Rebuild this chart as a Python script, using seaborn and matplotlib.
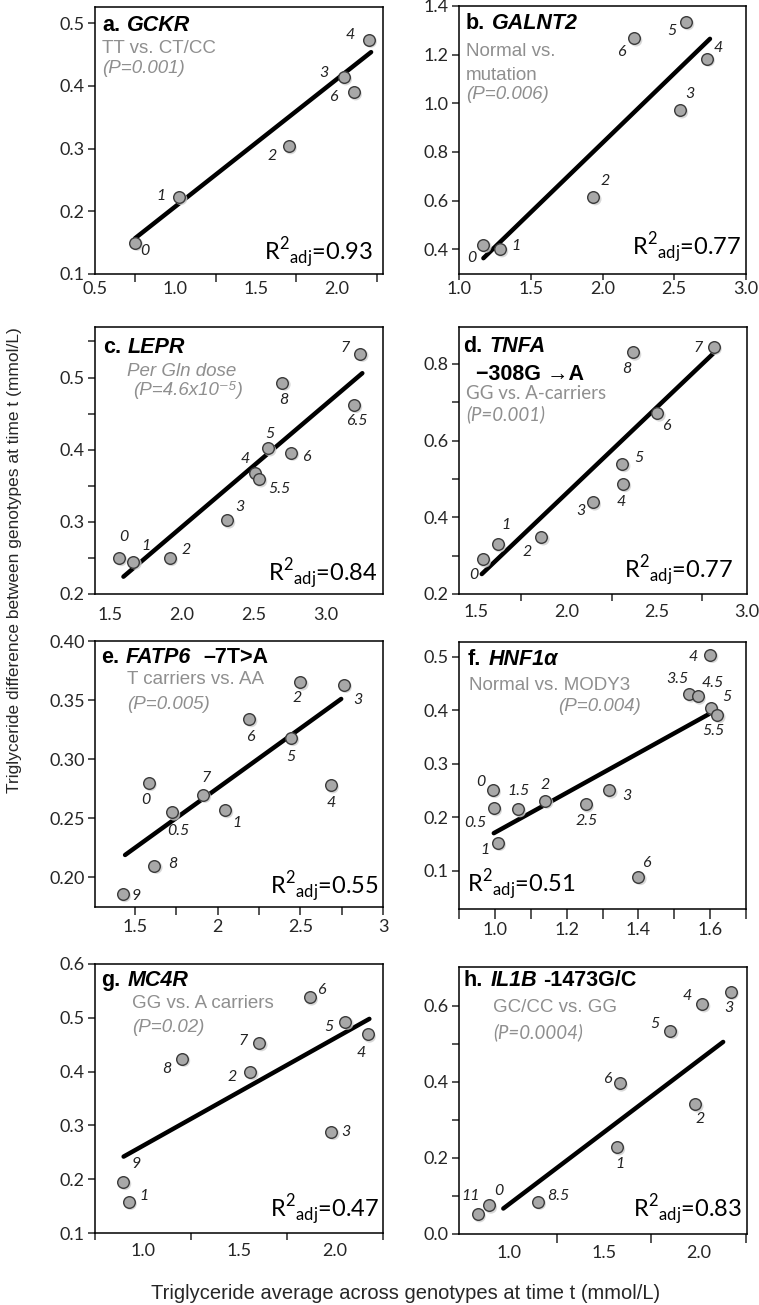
import matplotlib
matplotlib.use('Agg')
import matplotlib.pyplot as plt
from matplotlib.transforms import offset_copy
import seaborn as sns
import pandas as pd

# ---- data (x = TG average, y = TG difference) ----
# a. GCKR
gckr_x = [0.749, 1.023, 1.703, 2.046, 2.108, 2.201]
gckr_y = [0.150, 0.223, 0.304, 0.414, 0.390, 0.474]
gckr_lab = ['0', '1', '2', '3', '6', '4']
gckr_fit_x = [0.749, 2.216]
gckr_fit_y = [0.157, 0.454]

# b. GALNT2
galnt2_x = [1.170, 1.286, 1.936, 2.540, 2.726, 2.582, 2.220]
galnt2_y = [0.418, 0.400, 0.614, 0.971, 1.184, 1.334, 1.267]
galnt2_lab = ['0', '1', '2', '3', '4', '5', '6']
galnt2_fit_x = [1.170, 2.749]
galnt2_fit_y = [0.363, 1.265]

# c. LEPR
lepr_x = [1.563, 1.663, 1.914, 2.314, 2.507, 2.537, 2.600, 2.758, 2.700, 3.198, 3.242]
lepr_y = [0.250, 0.245, 0.250, 0.302, 0.367, 0.359, 0.402, 0.396, 0.493, 0.462, 0.533]
lepr_lab = ['0', '1', '2', '3', '4', '5.5', '5', '6', '8', '6.5', '7']
lepr_fit_x = [1.593, 3.256]
lepr_fit_y = [0.224, 0.506]

# d. TNFA -308G->A
tnfa_x = [1.537, 1.619, 1.861, 2.146, 2.313, 2.309, 2.504, 2.369, 2.815]
tnfa_y = [0.290, 0.330, 0.348, 0.439, 0.487, 0.539, 0.671, 0.830, 0.845]
tnfa_lab = ['0', '1', '2', '3', '4', '5', '6', '8', '7']
tnfa_fit_x = [1.531, 2.819]
tnfa_fit_y = [0.252, 0.830]

# e. FATP6 -7T>A
fatp6_x = [1.581, 1.723, 1.910, 2.044, 1.616, 1.425, 2.190, 2.443, 2.500, 2.762, 2.683]
fatp6_y = [0.280, 0.255, 0.270, 0.257, 0.210, 0.186, 0.334, 0.318, 0.365, 0.363, 0.278]
fatp6_lab = ['0', '0.5', '7', '1', '8', '9', '6', '5', '2', '3', '4']
fatp6_fit_x = [1.439, 2.747]
fatp6_fit_y = [0.219, 0.351]

# f. HNF1a
hnf1a_x = [0.994, 0.997, 1.008, 1.064, 1.140, 1.253, 1.319, 1.400, 1.542, 1.565, 1.600, 1.602, 1.620]
hnf1a_y = [0.251, 0.217, 0.152, 0.215, 0.231, 0.224, 0.250, 0.088, 0.430, 0.426, 0.504, 0.405, 0.391]
hnf1a_lab = ['0', '0.5', '1', '1.5', '2', '2.5', '3', '6', '3.5', '4.5', '4', '5', '5.5']
hnf1a_fit_x = [0.997, 1.602]
hnf1a_fit_y = [0.170, 0.395]

# g. MC4R
mc4r_x = [0.896, 0.925, 1.203, 1.559, 1.606, 1.868, 2.054, 2.170, 1.981]
mc4r_y = [0.195, 0.158, 0.424, 0.399, 0.453, 0.538, 0.493, 0.469, 0.288]
mc4r_lab = ['9', '1', '8', '2', '7', '6', '5', '4', '3']
mc4r_fit_x = [0.899, 2.179]
mc4r_fit_y = [0.242, 0.498]

# h. IL1B -1473G/C
il1b_x = [2.018, 2.168, 1.850, 1.582, 1.982, 1.568, 0.832, 0.892, 1.150]
il1b_y = [0.604, 0.637, 0.534, 0.396, 0.341, 0.228, 0.052, 0.075, 0.085]
il1b_lab = ['4', '3', '5', '6', '2', '1', '11', '0', '8.5']
il1b_fit_x = [0.968, 2.129]
il1b_fit_y = [0.067, 0.505]

r2_values = ['0.93', '0.77', '0.84', '0.77', '0.55', '0.51', '0.47', '0.83']

# label offsets (pixels) for the point numbers
gckr_off = [(10, -8), (-18, 1), (-16, -10), (-20, 4), (-20, -5), (-18, 5)]
galnt2_off = [(-12, -13), (16, 3), (12, 16), (10, 16), (12, 11), (-14, -9), (-13, -14)]
lepr_off = [(5, 21), (12, 16), (17, 8), (13, 13), (-10, 14), (20, -10), (2, 14), (15, -4),
            (1, -17), (3, -16), (-15, 6)]
tnfa_off = [(-9, -16), (8, 19), (-14, -15), (-12, -9), (-2, -18), (17, 6), (9, -13), (-6, -17), (-15, -1)]
fatp6_off = [(-3, -17), (6, -19), (3, 17), (12, -13), (18, 2), (13, -2), (1, -18), (0, -19),
             (-3, -16), (14, -15), (1, -18)]
hnf1a_off = [(-12, 8), (-18, -15), (-13, -7), (1, 18), (0, 16), (1, -17), (18, -6), (8, 14),
             (-12, 15), (15, 13), (-17, -2), (16, 11), (-4, -16)]
mc4r_off = [(13, 18), (15, 6), (-15, -10), (-18, -5), (-16, 2), (12, 7), (-16, -5), (-6, -19), (15, 0)]
il1b_off = [(-15, 8), (-2, -16), (-15, 7), (-12, 4), (5, -15), (3, -17), (-7, 18), (10, 14), (21, 6)]

sns.set_style('ticks')
plt.rcParams['font.family'] = ['Lato', 'DejaVu Sans']
plt.rcParams['mathtext.fontset'] = 'custom'
plt.rcParams['mathtext.rm'] = 'Lato'
plt.rcParams['axes.edgecolor'] = 'black'
plt.rcParams['axes.linewidth'] = 1.1

ARIAL = ['Liberation Sans', 'DejaVu Sans']
LATO = ['Lato', 'DejaVu Sans']
GREY = '#8f8f8f'
PX = 0.72  # points per pixel at dpi 100

fig = plt.figure(figsize=(7.59, 13.05), dpi=100)
W, H = 759, 1305

# title pieces: (text, bold-italic?, gap in px before the piece)
panels = [
    dict(x=gckr_x, y=gckr_y, lab=gckr_lab, off=gckr_off, fx=gckr_fit_x, fy=gckr_fit_y,
         box=(95, 7, 383, 274), xlim=(0.5, 2.29), ylim=(0.1, 0.526),
         xt=[0.5, 1.0, 1.5, 2.0], xtl=['0.5', '1.0', '1.5', '2.0'], xmaj=0, xpad=7,
         xmin=[0.75, 1.25, 1.75, 2.25], xminlen=8,
         yt=[0.1, 0.2, 0.3, 0.4, 0.5], ytl=['0.1', '0.2', '0.3', '0.4', '0.5'], ymin=[],
         title=[([('a.', False, 0), ('GCKR', True, 7)], 7, 8)],
         sub=[('TT vs. CT/CC', 7, 33, 'normal', ARIAL, 'left'),
              ('(P=0.001)', 7, 53, 'italic', ARIAL, 'left')],
         r2=(10, 13, 'right')),
    dict(x=galnt2_x, y=galnt2_y, lab=galnt2_lab, off=galnt2_off, fx=galnt2_fit_x, fy=galnt2_fit_y,
         box=(459, 6, 746, 274), xlim=(1.0, 3.0), ylim=(0.298, 1.40),
         xt=[1.0, 1.5, 2.0, 2.5, 3.0], xtl=['1.0', '1.5', '2.0', '2.5', '3.0'], xmaj=6, xpad=1,
         xmin=[], xminlen=0,
         yt=[0.4, 0.6, 0.8, 1.0, 1.2, 1.4], ytl=['0.4', '0.6', '0.8', '1.0', '1.2', '1.4'], ymin=[],
         title=[([('b.', False, 0), ('GALNT2', True, 7)], 7, 7)],
         sub=[('Normal vs.', 7, 37, 'normal', ARIAL, 'left'),
              ('mutation', 7, 61, 'normal', ARIAL, 'left'),
              ('(P=0.006)', 7, 80, 'italic', ARIAL, 'left')],
         r2=(5, 18, 'right')),
    dict(x=lepr_x, y=lepr_y, lab=lepr_lab, off=lepr_off, fx=lepr_fit_x, fy=lepr_fit_y,
         box=(95, 327, 383, 594), xlim=(1.395, 3.40), ylim=(0.2, 0.57),
         xt=[1.5, 2.0, 2.5, 3.0], xtl=['1.5', '2.0', '2.5', '3.0'], xmaj=0, xpad=13,
         xmin=[], xminlen=0,
         yt=[0.2, 0.3, 0.4, 0.5], ytl=['0.2', '0.3', '0.4', '0.5'], ymin=[0.25, 0.35, 0.45, 0.55],
         title=[([('c.', False, 0), ('LEPR', True, 7)], 8, 10)],
         sub=[('Per Gln dose', 32, 36, 'italic', ARIAL, 'left'),
              ('(P=4.6x10\u207b\u2075)', 38, 54, 'italic', ARIAL, 'left')],
         r2=(6, 12, 'right')),
    dict(x=tnfa_x, y=tnfa_y, lab=tnfa_lab, off=tnfa_off, fx=tnfa_fit_x, fy=tnfa_fit_y,
         box=(459, 327, 747, 594), xlim=(1.405, 3.0), ylim=(0.2, 0.8965),
         xt=[1.5, 2.0, 2.5, 3.0], xtl=['1.5', '2.0', '2.5', '3.0'], xmaj=0, xpad=10,
         xmin=[1.75, 2.25, 2.75], xminlen=7,
         yt=[0.2, 0.4, 0.6, 0.8], ytl=['0.2', '0.4', '0.6', '0.8'], ymin=[0.3, 0.5, 0.7],
         title=[([('d.', False, 0), ('TNFA', True, 7)], 4, 9),
                ([('\u2212308G \u2192A', False, 0)], 17, 37)],
         sub=[('GG vs. A-carriers', 7, 58, 'normal', LATO, 'left'),
              ('(P=0.001)', 7, 78, 'italic', LATO, 'left')],
         r2=(14, 15, 'right')),
    dict(x=fatp6_x, y=fatp6_y, lab=fatp6_lab, off=fatp6_off, fx=fatp6_fit_x, fy=fatp6_fit_y,
         box=(95, 641, 383, 907), xlim=(1.257, 3.0), ylim=(0.175, 0.40),
         xt=[1.5, 2.0, 2.5, 3.0], xtl=['1.5', '2', '2.5', '3'], xmaj=8, xpad=4,
         xmin=[1.75, 2.25, 2.75], xminlen=8,
         yt=[0.20, 0.25, 0.30, 0.35, 0.40], ytl=['0.20', '0.25', '0.30', '0.35', '0.40'], ymin=[],
         title=[([('e.', False, 0), ('FATP6', True, 7), ('\u20137T>A', False, 12)], 6, 6)],
         sub=[('T carriers vs. AA', 32, 30, 'normal', ARIAL, 'left'),
              ('(P=0.005)', 32, 55, 'italic', ARIAL, 'left')],
         r2=(4, 12, 'right')),
    dict(x=hnf1a_x, y=hnf1a_y, lab=hnf1a_lab, off=hnf1a_off, fx=hnf1a_fit_x, fy=hnf1a_fit_y,
         box=(459, 642, 746, 909), xlim=(0.903, 1.695), ylim=(0.028, 0.528),
         xt=[1.0, 1.2, 1.4, 1.6], xtl=['1.0', '1.2', '1.4', '1.6'], xmaj=10, xpad=3,
         xmin=[0.9, 1.1, 1.3, 1.5, 1.7], xminlen=10,
         yt=[0.1, 0.2, 0.3, 0.4, 0.5], ytl=['0.1', '0.2', '0.3', '0.4', '0.5'], ymin=[],
         title=[([('f.', False, 0), ('HNF1\u03b1', True, 7)], 9, 7)],
         sub=[('Normal vs. MODY3', 10, 35, 'normal', ARIAL, 'left'),
              ('(P=0.004)', 182, 56, 'italic', ARIAL, 'right')],
         r2=(8, 16, 'left')),
    dict(x=mc4r_x, y=mc4r_y, lab=mc4r_lab, off=mc4r_off, fx=mc4r_fit_x, fy=mc4r_fit_y,
         box=(95, 964, 383, 1233), xlim=(0.752, 2.248), ylim=(0.1, 0.6),
         xt=[1.0, 1.5, 2.0], xtl=['1.0', '1.5', '2.0'], xmaj=0, xpad=10,
         xmin=[0.75, 1.25, 1.75, 2.25], xminlen=7,
         yt=[0.1, 0.2, 0.3, 0.4, 0.5, 0.6], ytl=['0.1', '0.2', '0.3', '0.4', '0.5', '0.6'], ymin=[],
         title=[([('g.', False, 0), ('MC4R', True, 7)], 6, 6)],
         sub=[('GG vs. A carriers', 37, 31, 'normal', ARIAL, 'left'),
              ('(P=0.02)', 37, 55, 'italic', ARIAL, 'left')],
         r2=(4, 15, 'right')),
    dict(x=il1b_x, y=il1b_y, lab=il1b_lab, off=il1b_off, fx=il1b_fit_x, fy=il1b_fit_y,
         box=(459, 967, 747, 1234), xlim=(0.734, 2.255), ylim=(0.0, 0.702),
         xt=[1.0, 1.5, 2.0], xtl=['1.0', '1.5', '2.0'], xmaj=0, xpad=11,
         xmin=[1.25, 1.75, 2.25], xminlen=9,
         yt=[0.0, 0.2, 0.4, 0.6], ytl=['0.0', '0.2', '0.4', '0.6'], ymin=[0.1, 0.3, 0.5],
         title=[([('h.', False, 0), ('IL1B', True, 7), ('-1473G/C', False, 6)], 5, 3)],
         sub=[('GC/CC vs. GG', 34, 32, 'normal', ARIAL, 'left'),
              ('(P=0.0004)', 34, 56, 'italic', LATO, 'left')],
         r2=(5, 16, 'right')),
]


def draw_title(ax, pieces, dx, dy):
    prev = None
    for txt, italic, gap in pieces:
        kw = dict(fontsize=15.5, fontweight='bold', family=ARIAL, color='black',
                  fontstyle='italic' if italic else 'normal', textcoords='offset pixels')
        if prev is None:
            prev = ax.annotate(txt, xy=(0, 1), xycoords='axes fraction', xytext=(dx, -dy),
                               ha='left', va='top', **kw)
        else:
            prev = ax.annotate(txt, xy=(1, 0), xycoords=prev, xytext=(gap, 0),
                               ha='left', va='bottom', **kw)


for p, r2 in zip(panels, r2_values):
    l, t, r, b = p['box']
    ax = fig.add_axes([l / W, 1 - b / H, (r - l) / W, (b - t) / H])
    df = pd.DataFrame({'x': p['x'], 'y': p['y'], 'label': p['lab']})

    sns.lineplot(x=p['fx'], y=p['fy'], ax=ax, color='black', linewidth=3.2,
                 estimator=None, sort=False, zorder=2)
    # soft drop shadow under the markers
    sns.scatterplot(data=df, x='x', y='y', ax=ax, s=80, color='#cfcfcf',
                    edgecolor='none', linewidth=0, alpha=0.8, zorder=2.5)
    ax.collections[-1].set_offset_transform(offset_copy(ax.transData, fig=fig, x=2, y=-2, units='dots'))
    sns.scatterplot(data=df, x='x', y='y', ax=ax, s=70, color='#a8a8a8',
                    edgecolor='#3a3a3a', linewidth=1.0, zorder=3)

    for (xv, yv, txt), (dx, dy) in zip(df[['x', 'y', 'label']].values, p['off']):
        ax.annotate(txt, (xv, yv), xytext=(dx, dy), textcoords='offset pixels',
                    ha='center', va='center', fontsize=11.5, fontstyle='italic', color='#222222')

    ax.set_xlim(*p['xlim'])
    ax.set_ylim(*p['ylim'])
    ax.set_xlabel('')
    ax.set_ylabel('')
    ax.set_xticks(p['xt'])
    ax.set_xticklabels(p['xtl'])
    ax.set_xticks(p['xmin'], minor=True)
    ax.set_yticks(p['yt'])
    ax.set_yticklabels(p['ytl'])
    ax.set_yticks(p['ymin'], minor=True)
    ax.tick_params(axis='x', which='major', length=p['xmaj'] * PX, width=1.1,
                   pad=p['xpad'] * PX, labelsize=13)
    ax.tick_params(axis='x', which='minor', length=p['xminlen'] * PX, width=1.1)
    ax.tick_params(axis='y', which='both', length=7 * PX, width=1.1, pad=3 * PX, labelsize=13)
    for s in ax.spines.values():
        s.set_visible(True)

    for pieces, dx, dy in p['title']:
        draw_title(ax, pieces, dx, dy)
    for txt, dx, dy, style, fam, ha in p['sub']:
        ax.annotate(txt, xy=(0, 1), xycoords='axes fraction', xytext=(dx, -dy),
                    textcoords='offset pixels', ha=ha, va='top', fontsize=13.5,
                    fontstyle=style, family=fam, color=GREY)

    dx, dy, side = p['r2']
    r2_text = 'R$^{2}$$_{\\mathrm{adj}}$=' + r2
    if side == 'right':
        ax.annotate(r2_text, xy=(1, 0), xycoords='axes fraction',
                    xytext=(-dx, dy), textcoords='offset pixels', ha='right', va='baseline',
                    fontsize=17, color='black')
    else:
        ax.annotate(r2_text, xy=(0, 0), xycoords='axes fraction',
                    xytext=(dx, dy), textcoords='offset pixels', ha='left', va='baseline',
                    fontsize=17, color='black')

fig.text(406 / W, 1 - 1299 / H, 'Triglyceride average across genotypes at time t (mmol/L)',
         ha='center', va='baseline', fontsize=14.5, family=ARIAL)
fig.text(15 / W, 1 - 560 / H, 'Triglyceride difference between genotypes at time t (mmol/L)',
         ha='center', va='center', rotation=90, fontsize=12.5, family=ARIAL)

fig.savefig('out.png', dpi=100)
